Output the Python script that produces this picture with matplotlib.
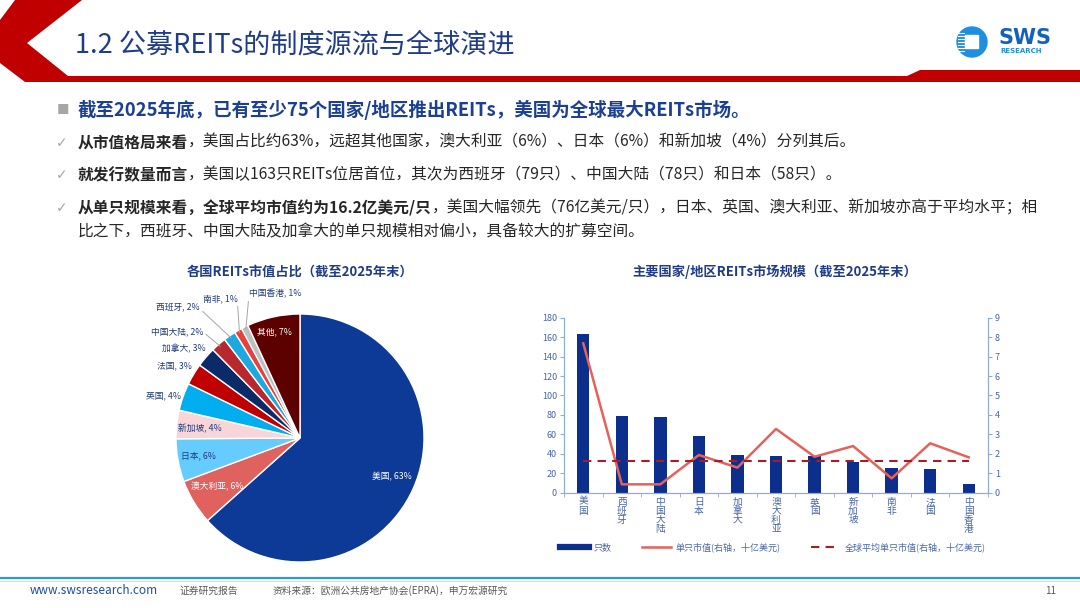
import numpy as np
import matplotlib.pyplot as plt
from matplotlib.patches import Polygon, Circle, Rectangle
from matplotlib.lines import Line2D

plt.rcParams['font.family'] = ['Noto Sans CJK SC', 'DejaVu Sans']

# pie data: market cap share (%) (labels show rounded)
pie_labels = ["美国", "澳大利亚", "日本", "新加坡", "英国", "法国", "加拿大",
              "中国大陆", "西班牙", "南非", "中国香港", "其他"]
pie_share = [63.4, 5.9, 5.6, 3.7, 3.6, 2.8, 2.6, 2.0, 1.6, 1.0, 0.9, 6.9]
pie_colors = ["#0D3A97", "#E0625F", "#66CCFF", "#F8D5D9", "#00AEEF", "#C00000",
              "#0A2A68", "#B8282E", "#1BA9DF", "#E8403C", "#BFBFBF", "#5C0000"]

# bar/line data
bar_labels = ["美国", "西班牙", "中国大陆", "日本", "加拿大", "澳大利亚", "英国",
              "新加坡", "南非", "法国", "中国香港"]
reit_count = [163, 79, 78, 58, 39, 38, 38, 32, 25, 24, 9]
avg_cap = [7.68, 0.43, 0.43, 1.94, 1.29, 3.28, 1.85, 2.40, 0.74, 2.54, 1.82]
global_avg = 1.62

W, H = 1080, 608
fig = plt.figure(figsize=(W / 100, H / 100), dpi=100)
fig.patch.set_facecolor("white")

# background axes in pixel coords (no patch drawn, so it can sit on top)
bg = fig.add_axes([0, 0, 1, 1])
bg.set_xlim(0, W)
bg.set_ylim(H, 0)
bg.axis("off")
bg.set_zorder(10)

RED = "#C00000"
NAVY = "#1F3C88"

# header shape
bg.add_patch(Polygon([(15, 0), (82, 0), (27, 43), (68, 76), (907, 76), (920, 70),
                      (1080, 70), (1080, 82), (25, 82), (0, 63), (0, 20)],
                     closed=True, color=RED, lw=0))
bg.text(75, 45, "1.2 公募REITs的制度源流与全球演进", fontsize=19.5, color=NAVY,
        va="center", ha="left")

# logo
bg.add_patch(Circle((972, 42), 15, color="#1E8FE0"))
bg.add_patch(Rectangle((965, 35), 13, 13, color="white"))
for yy in range(33, 52, 3):
    bg.plot([958, 964], [yy, yy], color="white", lw=0.8)
bg.text(998, 38, "SWS", fontsize=15, fontweight="bold", color="#1560BD",
        va="center", ha="left", family="DejaVu Sans")
bg.text(1000, 51, "RESEARCH", fontsize=5, fontweight="bold", color="#1E8FE0",
        va="center", ha="left", family="DejaVu Sans")

# bullet text
TXT = "#262626"
FS = 11.3


def run_line(x, y, parts, fs=FS):
    prev = None
    for s, bold, col in parts:
        kw = dict(fontsize=fs, color=col, fontweight="bold" if bold else "normal")
        if prev is None:
            prev = bg.text(x, y, s, va="center", ha="left", **kw)
        else:
            prev = bg.annotate(s, xy=(1, 0), xycoords=prev, va="bottom", ha="left", **kw)


bg.text(57, 110, "■", fontsize=9, color="#A6A6A6", va="center", ha="left")
run_line(78, 110, [("截至2025年底，已有至少75个国家/地区推出REITs，美国为全球最大REITs市场。", True, "#1B3F94")],
         fs=13.3)
for yy in (143, 175, 208):
    bg.text(56, yy, "✓", fontsize=10, color="#A6A6A6", va="center", ha="left",
            family=["DejaVu Sans"])
run_line(78, 143, [("从市值格局来看", True, TXT),
                   ("，美国占比约63%，远超其他国家，澳大利亚（6%）、日本（6%）和新加坡（4%）分列其后。", False, TXT)])
run_line(78, 175, [("就发行数量而言", True, TXT),
                   ("，美国以163只REITs位居首位，其次为西班牙（79只）、中国大陆（78只）和日本（58只）。", False, TXT)])
run_line(78, 208, [("从单只规模来看，全球平均市值约为16.2亿美元/只", True, TXT),
                   ("，美国大幅领先（76亿美元/只），日本、英国、澳大利亚、新加坡亦高于平均水平；相", False, TXT)])
run_line(78, 232, [("比之下，西班牙、中国大陆及加拿大的单只规模相对偏小，具备较大的扩募空间。", False, TXT)])

# chart titles
bg.text(300, 272, "各国REITs市值占比（截至2025年末）", fontsize=9.5, fontweight="bold",
        color=NAVY, ha="center", va="center")
bg.text(775, 272, "主要国家/地区REITs市场规模（截至2025年末）", fontsize=9.5,
        fontweight="bold", color=NAVY, ha="center", va="center")

# pie
cx, cy, r = 300, 438, 124
axp = fig.add_axes([(cx - r) / W, (H - cy - r) / H, 2 * r / W, 2 * r / H])
wedges, _ = axp.pie(pie_share, colors=pie_colors, startangle=90, counterclock=False,
                    wedgeprops=dict(edgecolor="white", linewidth=1.0))
axp.set_xlim(-1, 1)
axp.set_ylim(-1, 1)

label_pos = {"美国": (392, 477), "澳大利亚": (217, 487), "日本": (198, 456),
             "新加坡": (200, 429), "英国": (164, 396), "法国": (174, 366),
             "加拿大": (184, 349), "中国大陆": (177, 332), "西班牙": (178, 307),
             "南非": (220, 299), "中国香港": (275, 294), "其他": (274, 332)}
white_lab = {"美国", "澳大利亚", "其他"}
leader = {"中国大陆": (1, 0.5), "西班牙": (1, 0.3), "南非": (1, 0.2), "中国香港": (0, 0.2)}
LBL = "#1F3A7A"
for w, name, val in zip(wedges, pie_labels, pie_share):
    px, py = label_pos[name]
    txt = f"{name}, {val:.0f}%"
    col = "white" if name in white_lab else LBL
    if name in leader:
        ang = np.deg2rad((w.theta1 + w.theta2) / 2)
        bg.annotate(txt, xy=(np.cos(ang) * 0.98, np.sin(ang) * 0.98),
                    xycoords=axp.transData, xytext=(px, py), textcoords="data",
                    fontsize=6.3, color=col, ha="center", va="center",
                    arrowprops=dict(arrowstyle="-", color="#A6A6A6", lw=0.7,
                                    shrinkA=0, shrinkB=0, relpos=leader[name]),
                    annotation_clip=False)
    else:
        bg.text(px, py, txt, fontsize=6.3, color=col, ha="center", va="center")

# bar + line chart
AX = "#8FAADC"
TK = "#4A66A8"
ax = fig.add_axes([564 / W, (H - 492.7) / H, 424 / W, 175 / H])
x = np.arange(len(bar_labels))
ax.bar(x, reit_count, width=0.32, color="#0C2F8E", zorder=2)
ax.set_xlim(-0.5, len(x) - 0.5)
ax.set_ylim(0, 180)
ax.set_yticks(range(0, 181, 20))
ax.set_xticks(x)
ax.set_xticklabels(["\n".join(s) for s in bar_labels], fontsize=7, color=TK,
                   linespacing=0.88, va="top")
ax.set_xticks(np.arange(-0.5, len(x), 1), minor=True)
ax.tick_params(axis="x", which="major", length=0, pad=3)
ax.tick_params(axis="x", which="minor", length=3, color=AX)
ax.tick_params(axis="y", labelsize=6.5, labelcolor=TK, length=3, color=AX, pad=2)
ax.spines["top"].set_visible(False)
for s in ("left", "bottom", "right"):
    ax.spines[s].set_color(AX)

ax2 = ax.twinx()
ax2.plot(x, avg_cap, color="#E8605A", lw=1.8, zorder=3)
ax2.plot(x, [global_avg] * len(x), color="#A31F24", lw=1.5, ls=(0, (4, 3)), zorder=3)
ax2.set_ylim(0, 9)
ax2.set_yticks(range(0, 10))
ax2.tick_params(axis="y", labelsize=6.5, labelcolor=TK, length=3, color=AX, pad=2)
ax2.spines["top"].set_visible(False)
for s in ("left", "bottom", "right"):
    ax2.spines[s].set_color(AX)

handles = [Line2D([], [], color="#0C2F8E", lw=4.5),
           Line2D([], [], color="#E8605A", lw=1.8),
           Line2D([], [], color="#A31F24", lw=1.5, ls=(0, (4, 3)))]
fig.legend(handles, ["只数", "单只市值(右轴，十亿美元)", "全球平均单只市值(右轴，十亿美元)"],
           loc="center left", bbox_to_anchor=(560 / W, (H - 547) / H), ncol=3,
           frameon=False, fontsize=6.5, labelcolor=TK, handlelength=3.2,
           handletextpad=0.5, columnspacing=3.4, borderpad=0, borderaxespad=0)

# footer
bg.plot([0, W], [578, 578], color="#2E9CCA", lw=1.6)
bg.plot([0, W], [580.5, 580.5], color="#BFE3F2", lw=0.8)
bg.text(30, 591, "www.swsresearch.com", fontsize=8.5, color="#1F4E9C", va="center", ha="left")
bg.text(180, 591, "证券研究报告", fontsize=7, color="#595959", va="center", ha="left")
bg.text(273, 591, "资料来源：欧洲公共房地产协会(EPRA)，申万宏源研究", fontsize=7,
        color="#595959", va="center", ha="left")
bg.text(1045, 591, "11", fontsize=7, color="#595959", va="center", ha="left")

fig.savefig("out.png", dpi=100)
